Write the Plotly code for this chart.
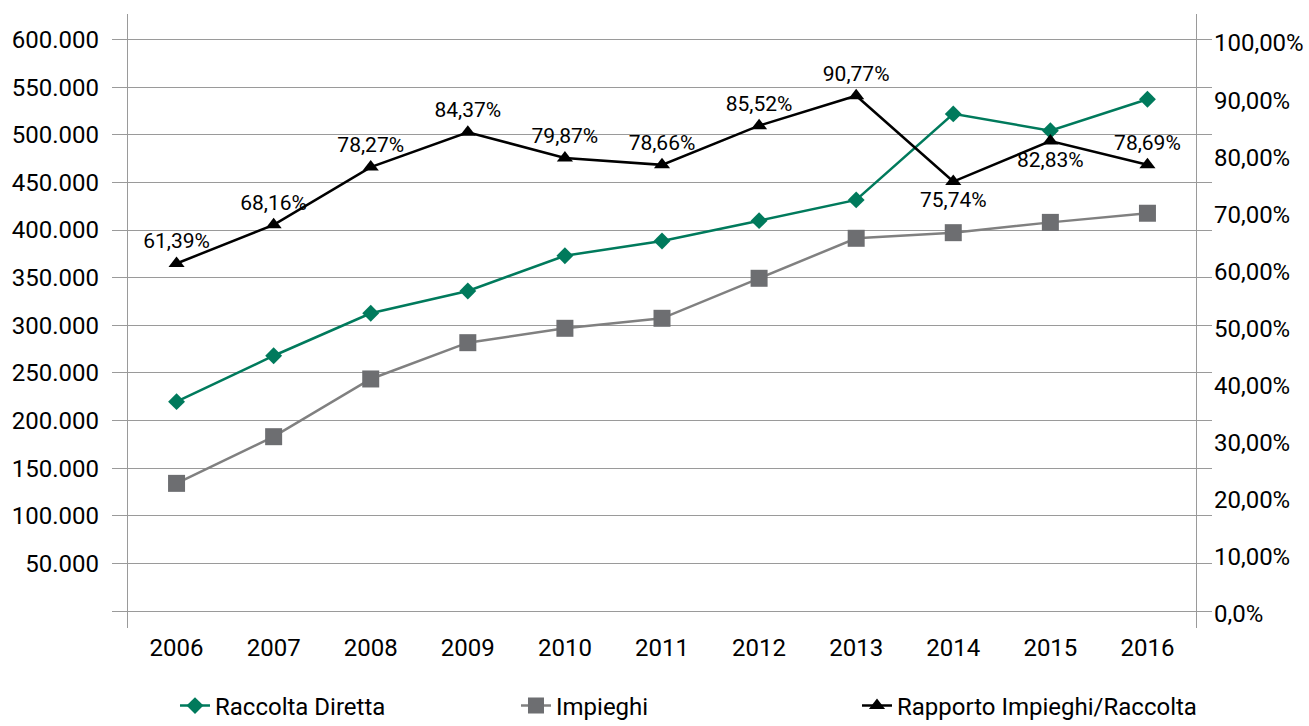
import plotly.graph_objects as go

years = ["2006", "2007", "2008", "2009", "2010", "2011", "2012", "2013", "2014", "2015", "2016"]
raccolta = [219800, 268000, 312600, 336000, 373000, 388500, 409800, 431600, 521900, 504300, 537300]
impieghi = [134000, 183000, 243600, 281700, 296800, 307300, 349300, 391300, 397200, 408000, 417600]
rapporto = [61.39, 68.16, 78.27, 84.37, 79.87, 78.66, 85.52, 90.77, 75.74, 82.83, 78.69]
rapporto_labels = ["61,39%", "68,16%", "78,27%", "84,37%", "79,87%", "78,66%",
                   "85,52%", "90,77%", "75,74%", "82,83%", "78,69%"]
label_positions = ["top center"] * 8 + ["bottom center", "bottom center", "top center"]

left_tickvals = [0, 50000, 100000, 150000, 200000, 250000, 300000, 350000,
                 400000, 450000, 500000, 550000, 600000]
left_ticktext = ["", "50.000", "100.000", "150.000", "200.000", "250.000", "300.000",
                 "350.000", "400.000", "450.000", "500.000", "550.000", "600.000"]
right_tickvals = [0, 10, 20, 30, 40, 50, 60, 70, 80, 90, 100]
right_ticktext = ["0,0%", "10,00%", "20,00%", "30,00%", "40,00%", "50,00%",
                  "60,00%", "70,00%", "80,00%", "90,00%", "100,00%"]

GREEN = "#007A5C"
GREY_M = "#6D6E71"
GREY_L = "#808080"
AXIS = "#9A9A9A"
FONT = "Roboto"

fig = go.Figure()
fig.add_trace(go.Scatter(
    x=years, y=raccolta, name="Raccolta Diretta", mode="lines+markers",
    line=dict(color=GREEN, width=2.5),
    marker=dict(symbol="diamond", size=13, color=GREEN),
))
fig.add_trace(go.Scatter(
    x=years, y=impieghi, name="Impieghi", mode="lines+markers",
    line=dict(color=GREY_L, width=2.5),
    marker=dict(symbol="square", size=17, color=GREY_M),
))
fig.add_trace(go.Scatter(
    x=years, y=rapporto, name="Rapporto Impieghi/Raccolta", mode="lines+markers+text",
    yaxis="y2",
    line=dict(color="#000000", width=2.5),
    marker=dict(symbol="triangle-up", size=14, color="#000000"),
    text=rapporto_labels, textposition=label_positions,
    textfont=dict(family=FONT, size=21, color="#000000"),
    cliponaxis=False,
))
# helper axis for the right-hand gridline tick extensions
fig.add_trace(go.Scatter(x=[], y=[], yaxis="y3", showlegend=False, hoverinfo="skip"))

left_range = [-17848, 626772]
fig.update_layout(
    width=1309, height=726,
    margin=dict(l=128, r=113, t=14, b=98, autoexpand=False),
    paper_bgcolor="white", plot_bgcolor="white",
    font=dict(family=FONT, size=24, color="#000000"),
    showlegend=True,
    legend=dict(
        orientation="h", x=0.044, xanchor="left", y=-0.1270, yanchor="middle",
        entrywidth=296, entrywidthmode="pixels",
        font=dict(family=FONT, size=24, color="#000000"),
        bgcolor="rgba(0,0,0,0)",
    ),
    xaxis=dict(
        type="category", range=[-0.5, 10.5], showgrid=False, showline=False,
        zeroline=False, ticks="", tickfont=dict(size=24), ticklabelstandoff=3,
        automargin=False,
    ),
    yaxis=dict(
        range=left_range, tickvals=left_tickvals, ticktext=left_ticktext,
        showgrid=True, gridcolor=AXIS, gridwidth=1.3,
        showline=True, linecolor=AXIS, linewidth=1.3,
        ticks="outside", ticklen=15, tickcolor=AXIS, tickwidth=1.3,
        zeroline=False, tickfont=dict(size=24), ticklabelstandoff=8,
        automargin=False,
    ),
    yaxis2=dict(
        overlaying="y", side="right", range=[-2.452, 105.08],
        tickvals=right_tickvals, ticktext=right_ticktext,
        showgrid=False, showline=True, linecolor=AXIS, linewidth=1.3,
        ticks="", zeroline=False, tickfont=dict(size=24), ticklabelstandoff=12,
        automargin=False,
    ),
    yaxis3=dict(
        overlaying="y", side="right", range=left_range, tickvals=left_tickvals,
        showgrid=False, showline=False, zeroline=False, showticklabels=False,
        ticks="outside", ticklen=15, tickcolor=AXIS, tickwidth=1.3,
        automargin=False,
    ),
)

fig.write_html(
    "out.html",
    config={"displayModeBar": False},
    post_script="document.body.style.margin='0';document.body.style.overflow='hidden';",
)
